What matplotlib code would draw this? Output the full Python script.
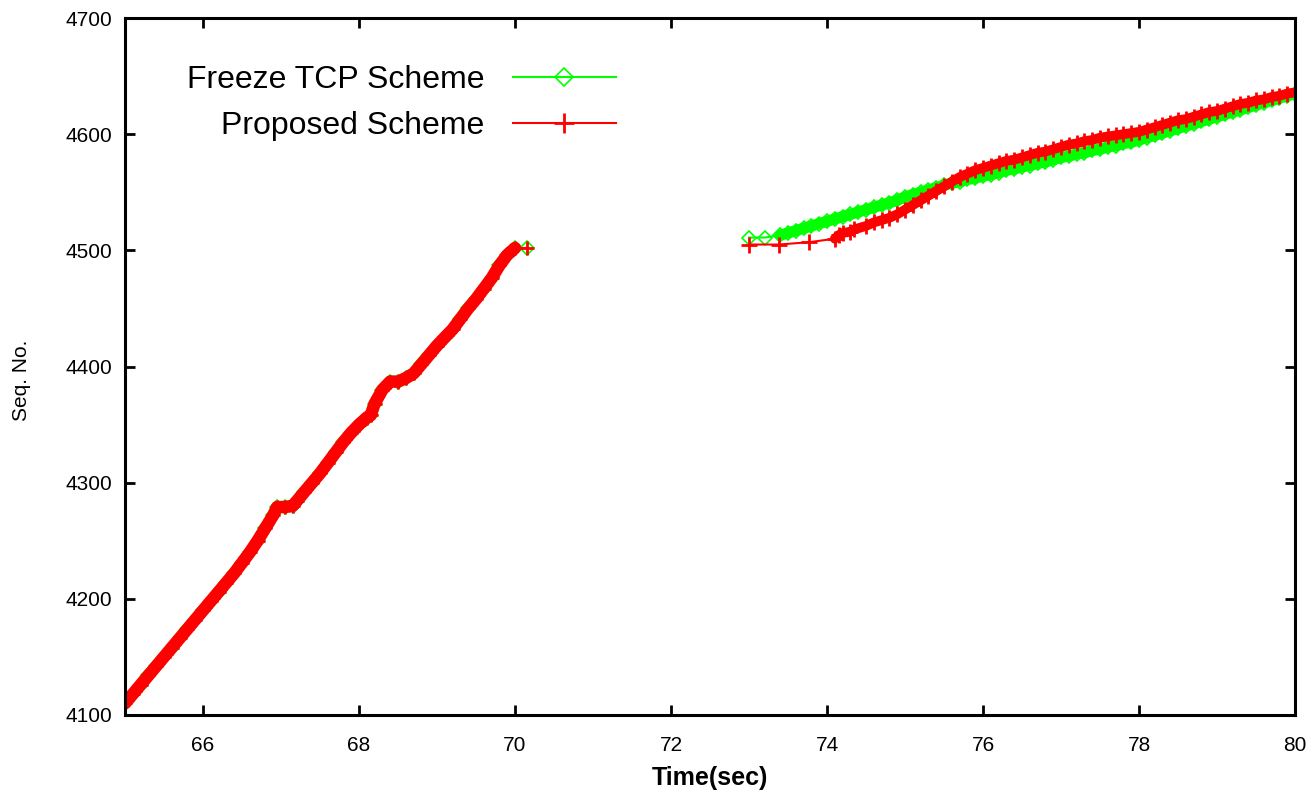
import numpy as np
import matplotlib
matplotlib.use("Agg")
import matplotlib.pyplot as plt

plt.rcParams['font.family'] = ['Liberation Sans', 'DejaVu Sans']

# first burst (both schemes coincide before the handoff)
seg1_time = [65.0, 65.1, 65.2, 65.3, 65.4, 65.5, 65.6, 65.7, 65.8, 65.9,
             66.0, 66.1, 66.2, 66.3, 66.4, 66.5, 66.6, 66.7, 66.8, 66.9,
             66.95, 67.05, 67.15, 67.2, 67.3, 67.4, 67.5, 67.6, 67.7, 67.8,
             67.9, 68.0, 68.1, 68.15, 68.2, 68.3, 68.4, 68.5, 68.6, 68.7,
             68.8, 68.9, 69.0, 69.1, 69.2, 69.3, 69.4, 69.5, 69.6, 69.7,
             69.8, 69.9, 70.0, 70.15]
seg1_seq = [4110, 4118, 4126, 4134, 4142, 4150, 4158, 4166, 4174, 4182,
            4190, 4198, 4206, 4214, 4222, 4231, 4240, 4250, 4261, 4272,
            4279, 4279, 4280, 4284, 4292, 4300, 4308, 4317, 4326, 4335,
            4343, 4350, 4356, 4358, 4368, 4380, 4387, 4387, 4390, 4394,
            4402, 4410, 4418, 4425, 4432, 4441, 4450, 4458, 4467, 4476,
            4487, 4496, 4502, 4502]

# after reconnection
freeze_time = [73.0, 73.2, 73.4, 73.5, 73.6, 73.7, 73.8, 73.9, 74.0, 74.1,
               74.2, 74.3, 74.4, 74.5, 74.6, 74.7, 74.8, 74.9, 75.0, 75.1,
               75.2, 75.3, 75.4, 75.5, 75.6, 75.7, 75.8, 75.9, 76.0, 76.1,
               76.2, 76.3, 76.4, 76.5, 76.6, 76.7, 76.8, 76.9, 77.0, 77.1,
               77.2, 77.3, 77.4, 77.5, 77.6, 77.7, 77.8, 77.9, 78.0, 78.1,
               78.2, 78.3, 78.4, 78.5, 78.6, 78.7, 78.8, 78.9, 79.0, 79.1,
               79.2, 79.3, 79.4, 79.5, 79.6, 79.7, 79.8, 79.9, 80.0]
freeze_seq = [4511, 4511, 4513, 4515, 4517, 4519, 4521, 4523, 4525, 4527,
              4529, 4531, 4533, 4535, 4537, 4539, 4541, 4543, 4546, 4548,
              4550, 4552, 4554, 4556, 4558, 4559, 4561, 4562, 4564, 4565,
              4567, 4569, 4570, 4572, 4573, 4575, 4576, 4578, 4580, 4581,
              4583, 4584, 4586, 4587, 4589, 4590, 4592, 4593, 4595, 4597,
              4599, 4601, 4603, 4605, 4607, 4609, 4611, 4613, 4615, 4617,
              4619, 4621, 4623, 4625, 4627, 4629, 4631, 4633, 4635]

proposed_time = [73.0, 73.38, 73.77, 74.1, 74.15, 74.2, 74.3, 74.35, 74.5, 74.6,
                 74.7, 74.8, 74.9, 75.0, 75.1, 75.2, 75.3, 75.4, 75.5, 75.6,
                 75.7, 75.8, 75.9, 76.0, 76.1, 76.2, 76.3, 76.4, 76.5, 76.6,
                 76.7, 76.8, 76.9, 77.0, 77.1, 77.2, 77.3, 77.4, 77.5, 77.6,
                 77.7, 77.8, 77.9, 78.0, 78.1, 78.2, 78.3, 78.4, 78.5, 78.6,
                 78.7, 78.8, 78.9, 79.0, 79.1, 79.2, 79.3, 79.4, 79.5, 79.6,
                 79.7, 79.8, 79.9, 80.0]
proposed_seq = [4505, 4505, 4507, 4510, 4513, 4515, 4516, 4518, 4521, 4524,
                4526, 4528, 4531, 4535, 4539, 4543, 4547, 4551, 4555, 4559,
                4563, 4566, 4569, 4571, 4573, 4575, 4577, 4578, 4580, 4582,
                4584, 4585, 4587, 4589, 4591, 4592, 4594, 4595, 4597, 4598,
                4599, 4600, 4601, 4602, 4604, 4606, 4608, 4610, 4612, 4613,
                4615, 4617, 4619, 4620, 4622, 4624, 4626, 4627, 4629, 4630,
                4632, 4633, 4635, 4636]

green = '#00ff00'
red = '#ff0000'

fig = plt.figure(figsize=(13.13, 7.97), dpi=100)
ax = fig.add_axes([0.0952, 0.1029, 0.8911, 0.8745])

band = dict(solid_capstyle='round', solid_joinstyle='round')

# freeze tcp (drawn first, mostly hidden under the proposed trace)
ax.plot(freeze_time[2:], freeze_seq[2:], color=green, lw=8, **band)
ax.plot(seg1_time, seg1_seq, color=green, lw=1.5, marker='D', ms=7,
        mfc='none', mec=green, mew=1.2)
ax.plot(freeze_time, freeze_seq, color=green, lw=1.5, marker='D', ms=7,
        mfc='none', mec=green, mew=1.2, label='Freeze TCP Scheme')

# proposed
ax.plot(seg1_time[:-1], seg1_seq[:-1], color=red, lw=9, **band)
ax.plot(proposed_time[3:], proposed_seq[3:], color=red, lw=7, **band)
ax.plot(seg1_time, seg1_seq, color=red, lw=1.5, marker='+', ms=10, mew=2)
ax.plot(proposed_time, proposed_seq, color=red, lw=1.5, marker='+', ms=11,
        mew=2, label='Proposed Scheme')

ax.set_xlim(65, 80)
ax.set_ylim(4100, 4700)
ax.set_xticks(np.arange(66, 81, 2))
ax.set_yticks(np.arange(4100, 4701, 100))

for s in ax.spines.values():
    s.set_linewidth(2.2)
ax.tick_params(direction='in', length=7, width=2, top=True, right=True,
               labelsize=15)
ax.tick_params(axis='x', pad=15)
ax.tick_params(axis='y', pad=9)

ax.set_xlabel('Time(sec)', fontsize=18, fontweight='bold', labelpad=8)
ax.set_ylabel('Seq. No.', fontsize=15)
ax.yaxis.set_label_coords(-0.08, 0.48)

leg = ax.legend(loc='upper right', bbox_to_anchor=(0.481, 0.938),
                bbox_transform=fig.transFigure, markerfirst=False,
                frameon=False, fontsize=23, handlelength=3.2,
                handletextpad=0.9, labelspacing=0.5, borderpad=0,
                markerscale=1.3)

fig.savefig('out.png', dpi=100)
